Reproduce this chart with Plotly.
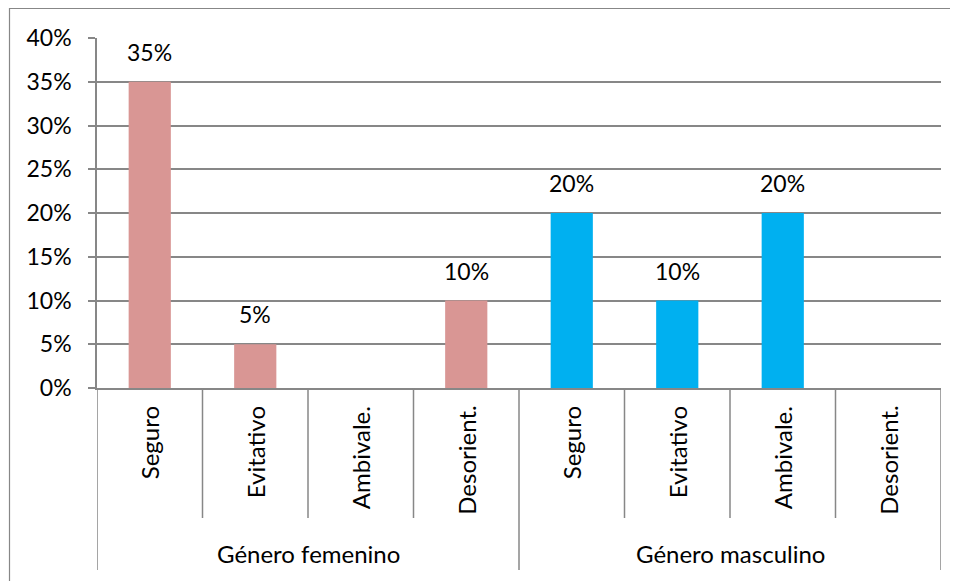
import plotly.graph_objects as go

# data
groups = ["Género femenino", "Género masculino"]
styles = ["Seguro", "Evitativo", "Ambivale.", "Desorient."]
femenino = [0.35, 0.05, 0.0, 0.10]
masculino = [0.20, 0.10, 0.20, 0.0]
group_colors = ["#D99694", "#00B0F0"]

FONT = "Lato"
GRAY = "#878787"

# the page body has an 8px margin, so the figure starts at (8, 8)
OFF = 8
FW, FH = 958 - OFF, 581 - OFF
# plot area in page pixels: left 97, top 38, right 941, bottom 388
L, T = 97 - OFF, 38 - OFF
W, H = 941 - 97, 388 - 38
R, B = FW - L - W, FH - T - H

n = len(styles)
fig = go.Figure()
for gi, (vals, color) in enumerate(zip([femenino, masculino], group_colors)):
    xs = [gi * n + i for i in range(n)]
    fig.add_trace(go.Bar(x=xs, y=vals, width=0.4, marker=dict(color=color, line_width=0),
                         showlegend=False, hoverinfo="skip"))
    # value labels (zero values carry no label in the reference)
    for x, v in zip(xs, vals):
        if v > 0:
            fig.add_annotation(x=x, y=v, text=f"{v:.0%}", showarrow=False, yanchor="bottom",
                               yshift=14, font=dict(family=FONT, size=23, color="black"))


def py(px):
    # page pixel row -> paper y
    return (388 - px) / H


def px_(x):
    # page pixel column -> paper x
    return (x - 97) / W


# category separators and labels below the axis
for k in range(2 * n + 1):
    bottom = 570 if k % n == 0 else 518
    fig.add_shape(type="line", xref="x", yref="paper", x0=k - 0.5, x1=k - 0.5,
                  y0=0, y1=py(bottom), line=dict(color=GRAY, width=1.5))
for gi, g in enumerate(groups):
    for i, s in enumerate(styles):
        fig.add_annotation(x=gi * n + i, y=py(404), xref="x", yref="paper", text=s,
                           textangle=-90, showarrow=False, yanchor="top", xanchor="center",
                           font=dict(family=FONT, size=24, color="black"))
    fig.add_annotation(x=gi * n + (n - 1) / 2, y=py(553), xref="x", yref="paper", text=g,
                       showarrow=False, yanchor="middle", font=dict(family=FONT, size=24, color="black"))

# outer chart border (runs off the right and bottom edges)
fig.add_shape(type="rect", xref="paper", yref="paper",
              x0=px_(9.5), x1=px_(1000), y0=py(620), y1=py(8.5),
              line=dict(color=GRAY, width=1.2))

fig.update_layout(
    width=FW, height=FH,
    margin=dict(l=L, r=R, t=T, b=B, autoexpand=False),
    paper_bgcolor="white", plot_bgcolor="white",
    barmode="overlay",
    font=dict(family=FONT, size=23, color="black"),
    xaxis=dict(range=[-0.5, 2 * n - 0.5], showticklabels=False, showgrid=False, zeroline=False,
               showline=True, linecolor=GRAY, linewidth=1.5, ticks=""),
    yaxis=dict(range=[0, 0.4], dtick=0.05, tickformat=".0%", showgrid=True, gridcolor=GRAY,
               gridwidth=1.5, zeroline=False, showline=True, linecolor=GRAY, linewidth=1.5,
               ticks="outside", ticklen=7, tickcolor=GRAY, tickwidth=1.5,
               ticklabelstandoff=12, tickfont=dict(family=FONT, size=23)),
)

fig.write_html("out.html")
